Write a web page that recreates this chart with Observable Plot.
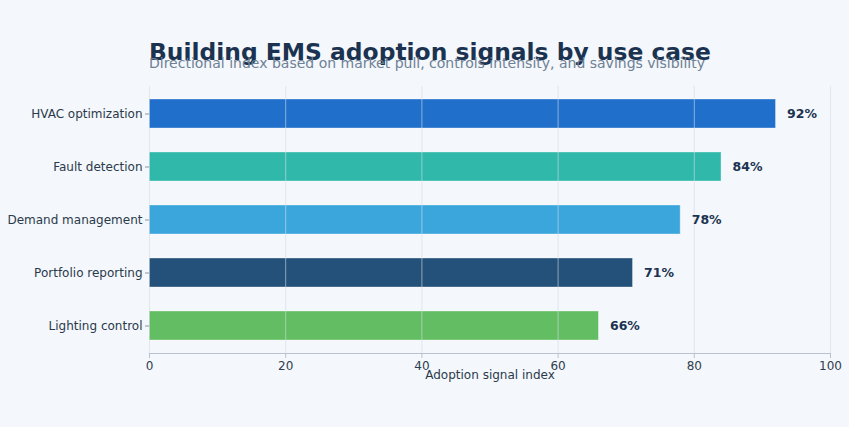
<!DOCTYPE html>
<html>
<head>
<meta charset="utf-8">
<script src="https://cdn.jsdelivr.net/npm/d3@7"></script>
<script src="https://cdn.jsdelivr.net/npm/@observablehq/plot@0.6"></script>
<style>
  html, body { margin: 0; padding: 0; background: #f4f7fb; }
  body { font-family: "DejaVu Sans", sans-serif; }
  #wrap { position: relative; width: 849px; height: 427px; overflow: hidden; }
  #title { position: absolute; left: 149px; top: 41px; margin: 0; font-size: 23.4px; line-height: 1; font-weight: bold; color: #1b3350; white-space: nowrap; }
  #sub { position: absolute; left: 149px; top: 56px; margin: 0; font-size: 14px; line-height: 1; color: #6e8196; white-space: nowrap; }
  #chart { position: absolute; left: 0; top: 0; }
</style>
</head>
<body>
<div id="wrap">
  <div id="chart"></div>
  <div id="title">Building EMS adoption signals by use case</div>
  <div id="sub">Directional index based on market pull, controls intensity, and savings visibility</div>
</div>
<script>
const categories = ["HVAC optimization", "Fault detection", "Demand management", "Portfolio reporting", "Lighting control"];
const values = [92, 84, 78, 71, 66];
const barColors = ["#206fcb", "#30b9aa", "#3ba6db", "#245179", "#63bd62"];
const xTicks = [0, 20, 40, 60, 80, 100];

const data = categories.map((name, i) => ({ name, value: values[i], color: barColors[i] }));

const chart = Plot.plot({
  width: 849,
  height: 427,
  marginLeft: 149,
  marginRight: 19,
  marginTop: 86,
  marginBottom: 74,
  style: { background: "transparent", fontFamily: "DejaVu Sans, sans-serif" },
  x: { domain: [0, 100], ticks: xTicks },
  y: { domain: categories, paddingInner: 0.448, paddingOuter: 0.224 },
  color: { type: "identity" },
  marks: [
    Plot.barX(data, { x: "value", y: "name", fill: "color", stroke: "#ffffff", strokeOpacity: 0.35, strokeWidth: 1 }),
    Plot.gridX(xTicks, { stroke: "#d3dce7", strokeOpacity: 0.6, strokeWidth: 1 }),
    Plot.frame({ anchor: "bottom", stroke: "#b9c3cf", strokeWidth: 1.2 }),
    Plot.axisX({ ticks: xTicks, tickSize: 5, tickPadding: 3, fontSize: 12, color: "#2e3d4f", stroke: "#b9c3cf", label: null }),
    Plot.axisY({ tickSize: 4, tickPadding: 3, fontSize: 12, color: "#2a3a4b", stroke: "#8a96a3", label: null }),
    Plot.text(data, { x: "value", y: "name", text: d => d.value + "%", dx: 11, textAnchor: "start", fontWeight: "bold", fontSize: 12.5, fill: "#1b3350" }),
    Plot.text(["Adoption signal index"], { frameAnchor: "bottom", dy: 25.5, fontSize: 12, fill: "#2a3a4b" })
  ]
});
document.getElementById("chart").appendChild(chart);
</script>
</body>
</html>
